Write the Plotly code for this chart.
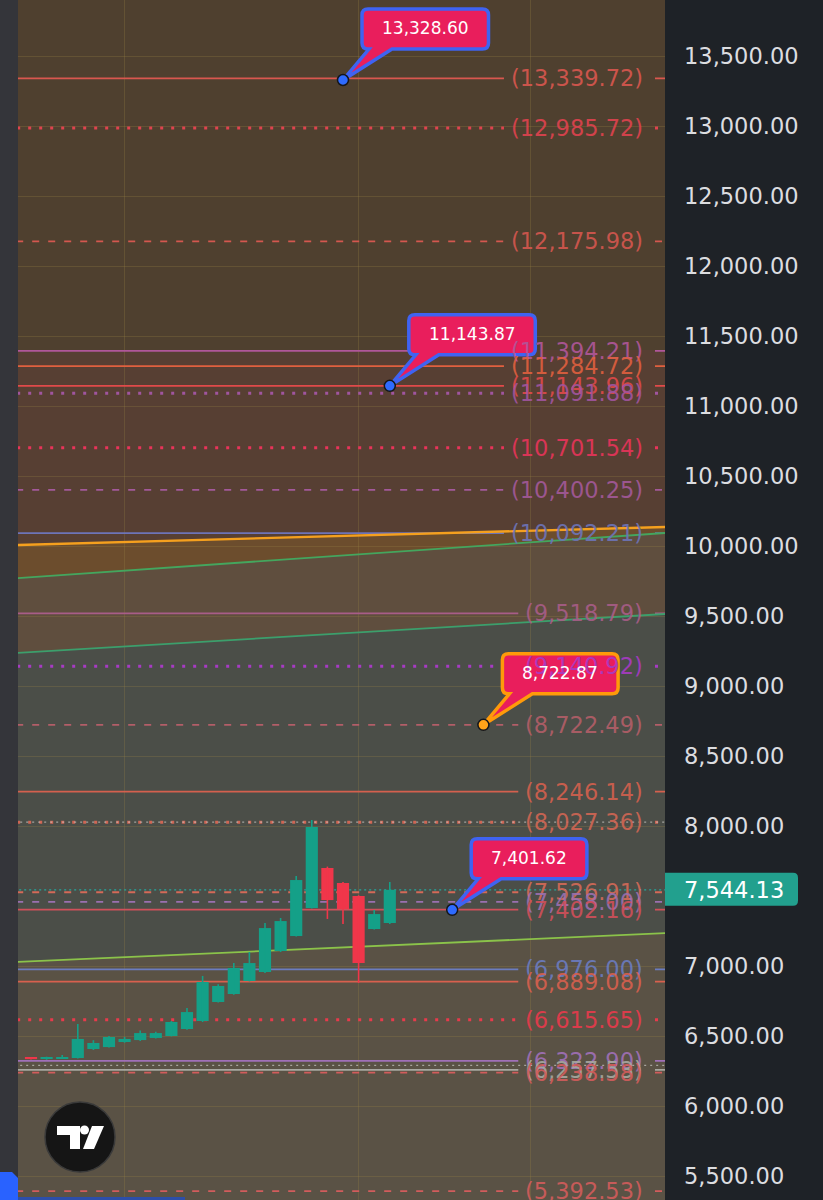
import plotly.graph_objects as go

# ---------------- data ----------------
candle_idx = list(range(24))
opens  = [6345, 6338, 6342, 6343, 6407, 6421, 6457, 6471, 6486, 6500, 6550, 6607,
          6743, 6800, 6893, 6957, 7107, 7214, 7414, 7700, 7593, 7500, 7264, 7307]
highs  = [6348, 6352, 6365, 6586, 6470, 6500, 6493, 6540, 6530, 6607, 6700, 6929,
          6870, 7021, 7100, 7307, 7343, 7643, 8043, 7710, 7600, 7505, 7400, 7600]
lows   = [6332, 6330, 6335, 6340, 6400, 6418, 6452, 6465, 6483, 6497, 6545, 6600,
          6740, 6795, 6890, 6950, 7100, 7210, 7410, 7336, 7300, 6879, 7260, 7300]
closes = [6335, 6343, 6350, 6479, 6450, 6493, 6479, 6521, 6521, 6600, 6671, 6886,
          6857, 6986, 7021, 7271, 7321, 7614, 7993, 7471, 7407, 7021, 7371, 7544.13]
last_price = 7544.13

level_values = [13339.72, 12985.72, 12175.98, 11394.21, 11284.72, 11143.96, 11091.88,
                10701.54, 10400.25, 10092.21, 9518.79, 9140.92, 8722.49, 8246.14,
                8027.36, 7526.91, 7458.00, 7402.16, 6976.00, 6889.08, 6615.65,
                6322.90, 6257.53, 6238.58, 5392.53]
level_styles = ['solid', 'dot', 'dash', 'solid', 'solid', 'solid', 'dot',
                'dot', 'dash', 'solid', 'solid', 'dot', 'dash', 'solid',
                'dot', 'dash', 'dash', 'solid', 'solid', 'solid', 'dot',
                'solid', 'solid', 'dash', 'dash']
level_colors = ['#d9574f', '#e0434f', '#d4574f', '#b0579a', '#e0603f', '#e04a4a', '#a0559f',
                '#e8345a', '#a3599a', '#6d74b8', '#a85d88', '#a73bc4', '#b35e68', '#d4604e',
                '#d06654', '#d46a58', '#9a70b0', '#d0505a', '#6b7cc0', '#d8604e', '#e83a4c',
                '#a070b8', '#a8a8a0', '#d25c5c', '#d25c5c']

gray_dotted_values = [8027.36, 6290.00]

# sloped trend lines: value at index 0 and at index 40
trend_start = [10010, 9777, 9242, 7033]
trend_end   = [10134, 10088, 9510, 7232]
trend_colors = ['#f5a01e', '#44a65e', '#3c9f6c', '#8bc34a']

callout_idx  = [20, 23, 29, 27]
callout_vals = [13328.60, 11143.87, 8722.87, 7401.62]
callout_text = ['13,328.60', '11,143.87', '8,722.87', '7,401.62']
callout_border = ['#3f63f2', '#3f63f2', '#ff9a0a', '#3f63f2']
callout_dot = ['#2f6bff', '#2f6bff', '#ffa31a', '#2f6bff']

y_ticks = [5500, 6000, 6500, 7000, 8000, 8500, 9000, 9500, 10000, 10500,
           11000, 11500, 12000, 12500, 13000, 13500]

# ---------------- geometry helpers ----------------
PL, PW, H = 18, 647, 1200
X_RANGE = [-0.833, 40.641]
Y_RANGE = [5328.57, 13900]
FONT = 'DejaVu Sans'
FS = 22.5


def px(x):
    return (x - PL) / PW


def py(y):
    return 1 - y / H


def xi(pxv):
    return X_RANGE[0] + (pxv - PL) / PW * (X_RANGE[1] - X_RANGE[0])


def ppath(points):
    return 'M' + ' L'.join(f'{px(a):.5f},{py(b):.5f}' for a, b in points) + ' Z'


def trend_at(i, k):
    return trend_start[k] + (trend_end[k] - trend_start[k]) * i / 40.0


CW = {'0': .636, '1': .636, '2': .636, '3': .636, '4': .636, '5': .636, '6': .636,
      '7': .636, '8': .636, '9': .636, '(': .39, ')': .39, ',': .318, '.': .318}


def text_w(t, fs=FS):
    return sum(CW.get(c, .6) for c in t) * fs


fig = go.Figure()

# ---------------- candles ----------------
up_col, dn_col = '#14a088', '#f0364a'
bar_cols = [up_col if c >= o else dn_col for o, c in zip(opens, closes)]
bar_h = [(c - o) if abs(c - o) > 8 else (8 if c >= o else -8) for o, c in zip(opens, closes)]
for col in (up_col, dn_col):
    wx, wy = [], []
    for i, o, h, l, c in zip(candle_idx, opens, highs, lows, closes):
        if (col == up_col) == (c >= o):
            wx += [i, i, None]
            wy += [l, h, None]
    fig.add_trace(go.Scatter(x=wx, y=wy, mode='lines', line=dict(color=col, width=1.6),
                             hoverinfo='skip', showlegend=False))
fig.add_trace(go.Bar(x=candle_idx, y=bar_h, base=opens, width=0.78,
                     marker=dict(color=bar_cols, line=dict(width=0)),
                     hoverinfo='skip', showlegend=False))

shapes = []

# ---------------- background zones ----------------
XL, XR = -3, 44


def zone(top_fn, bot_fn, color):
    pts = [(XL, top_fn(XL)), (XR, top_fn(XR)), (XR, bot_fn(XR)), (XL, bot_fn(XL))]
    path = 'M' + ' L'.join(f'{a},{b}' for a, b in pts) + ' Z'
    shapes.append(dict(type='path', xref='x', yref='y', path=path, fillcolor=color,
                       line=dict(width=0), layer='below'))


zone(lambda i: 15000, lambda i: 11400, '#4f402f')
zone(lambda i: 11400, lambda i: trend_at(i, 0), '#573f33')
zone(lambda i: trend_at(i, 0), lambda i: trend_at(i, 1), '#6c4d2d')
zone(lambda i: trend_at(i, 1), lambda i: trend_at(i, 2), '#5f4e3e')
zone(lambda i: trend_at(i, 2), lambda i: trend_at(i, 3), '#4b4e48')
zone(lambda i: trend_at(i, 3), lambda i: 4000, '#5a5245')

# ---------------- horizontal levels ----------------
dash_map = {'solid': ('solid', 1.8), 'dot': ('3px,8px', 3), 'dash': ('7px,9px', 1.8)}
annotations = []
label_right = 645
for v, st, col in zip(level_values, level_styles, level_colors):
    d, w = dash_map[st]
    txt = f'({v:,.2f})'
    left_px = label_right - text_w(txt)
    shapes.append(dict(type='line', xref='x', yref='y', x0=XL, x1=xi(left_px - 9),
                       y0=v, y1=v, line=dict(color=col, width=w, dash=d), layer='between'))
    shapes.append(dict(type='line', xref='x', yref='y', x0=xi(655), x1=XR,
                       y0=v, y1=v, line=dict(color=col, width=w, dash=d), layer='between'))
    annotations.append(dict(xref='paper', yref='y', x=px(label_right), y=v, xanchor='right',
                            yanchor='middle', text=txt, showarrow=False,
                            font=dict(family=FONT, size=FS, color=col), opacity=0.9))

for v in gray_dotted_values:
    shapes.append(dict(type='line', xref='x', yref='y', x0=XL, x1=XR, y0=v, y1=v,
                       line=dict(color='rgba(200,200,195,0.7)', width=1.3, dash='2px,4px'),
                       layer='between'))
shapes.append(dict(type='line', xref='x', yref='y', x0=XL, x1=XR, y0=last_price, y1=last_price,
                   line=dict(color='#26a69a', width=1.3, dash='2px,3px'), layer='between'))

# ---------------- trend lines ----------------
for k, col in enumerate(trend_colors):
    shapes.append(dict(type='line', xref='x', yref='y', x0=XL, x1=XR,
                       y0=trend_at(XL, k), y1=trend_at(XR, k),
                       line=dict(color=col, width=2.4 if k == 0 else 1.8), layer='between'))


# ---------------- callouts ----------------
def callout_path(w):
    L, R, B, T, r = 19, 19 + w, 31, 71, 6
    return (f'M0,0 L{L + 30},{B} L{R - r},{B} Q{R},{B} {R},{B + r} L{R},{T - r} '
            f'Q{R},{T} {R - r},{T} L{L + r},{T} Q{L},{T} {L},{T - r} L{L},{B + r} '
            f'Q{L},{B} {L + r},{B} L{L + 7},{B} Z')


for i, v, t, bc, dc in zip(callout_idx, callout_vals, callout_text, callout_border, callout_dot):
    w = text_w(t, 17) + 40
    shapes.append(dict(type='path', xref='x', yref='y', xsizemode='pixel', ysizemode='pixel',
                       xanchor=i, yanchor=v, path=callout_path(w), fillcolor='#e91e5c',
                       line=dict(color=bc, width=3.5), layer='above'))
    shapes.append(dict(type='circle', xref='x', yref='y', xsizemode='pixel', ysizemode='pixel',
                       xanchor=i, yanchor=v, x0=-5.5, x1=5.5, y0=-5.5, y1=5.5,
                       fillcolor=dc, line=dict(color='#15161a', width=1.5), layer='above'))
    annotations.append(dict(xref='x', yref='y', x=i, y=v, xshift=19 + w / 2, yshift=52,
                            text=t, showarrow=False, xanchor='center', yanchor='middle',
                            font=dict(family=FONT, size=17, color='white')))

# ---------------- last price tag ----------------
shapes.append(dict(type='path', xref='paper', yref='y', xsizemode='pixel', ysizemode='pixel',
                   xanchor=1, yanchor=last_price,
                   path='M0,-16 L128,-16 Q133,-16 133,-11 L133,12 Q133,17 128,17 L0,17 Z',
                   fillcolor='#22a08e', line=dict(width=0), layer='above'))
annotations.append(dict(xref='paper', yref='y', x=1, y=last_price, xshift=17, xanchor='left',
                        yanchor='middle', text=f'{last_price:,.2f}', showarrow=False,
                        font=dict(family=FONT, size=FS, color='white')))

# ---------------- chrome: left strip, logo, tab ----------------
shapes.append(dict(type='rect', xref='paper', yref='paper', x0=px(0), x1=0, y0=0, y1=1,
                   fillcolor='#34353a', line=dict(width=0), layer='above'))
shapes.append(dict(type='path', xref='paper', yref='paper',
                   path=ppath([(0, 1172), (12, 1172), (18, 1178), (18, 1200), (0, 1200)]),
                   fillcolor='#2962ff', line=dict(width=0), layer='above'))
shapes.append(dict(type='rect', xref='paper', yref='paper', x0=0, x1=px(185),
                   y0=py(1200), y1=py(1197), fillcolor='#2d4ea8', line=dict(width=0), layer='above'))
shapes.append(dict(type='circle', xref='paper', yref='paper', x0=px(45), x1=px(115),
                   y0=py(1172), y1=py(1102), fillcolor='#151515',
                   line=dict(color='#3a3a3a', width=1.5), layer='above'))
shapes.append(dict(type='path', xref='paper', yref='paper',
                   path=ppath([(57, 1126), (80, 1126), (80, 1149), (70, 1149), (70, 1135), (57, 1135)]),
                   fillcolor='white', line=dict(width=0), layer='above'))
shapes.append(dict(type='circle', xref='paper', yref='paper', x0=px(80), x1=px(89),
                   y0=py(1134.5), y1=py(1125.5), fillcolor='white', line=dict(width=0), layer='above'))
shapes.append(dict(type='path', xref='paper', yref='paper',
                   path=ppath([(92, 1126), (104, 1126), (94, 1149), (83, 1149)]),
                   fillcolor='white', line=dict(width=0), layer='above'))

fig.update_layout(
    width=823, height=1200, autosize=False,
    margin=dict(l=18, r=158, t=0, b=0, pad=0),
    paper_bgcolor='#1e2227', plot_bgcolor='#4f402f',
    showlegend=False, barmode='overlay', dragmode=False,
    shapes=shapes, annotations=annotations,
    xaxis=dict(range=X_RANGE, tickvals=[6, 21, 32], showticklabels=False, ticks='',
               showgrid=True, gridcolor='rgba(150,130,70,0.28)', gridwidth=1,
               zeroline=False, showline=False, fixedrange=True),
    yaxis=dict(range=Y_RANGE, side='right', tickvals=y_ticks,
               ticktext=[f'{t:,.2f}' for t in y_ticks], ticks='', ticklabelstandoff=18,
               tickfont=dict(family=FONT, size=FS, color='#dcdde0'),
               showgrid=True, gridcolor='rgba(150,130,70,0.28)', gridwidth=1,
               zeroline=False, showline=False, fixedrange=True),
)

fig.write_html('out.html', config={'displayModeBar': False})
